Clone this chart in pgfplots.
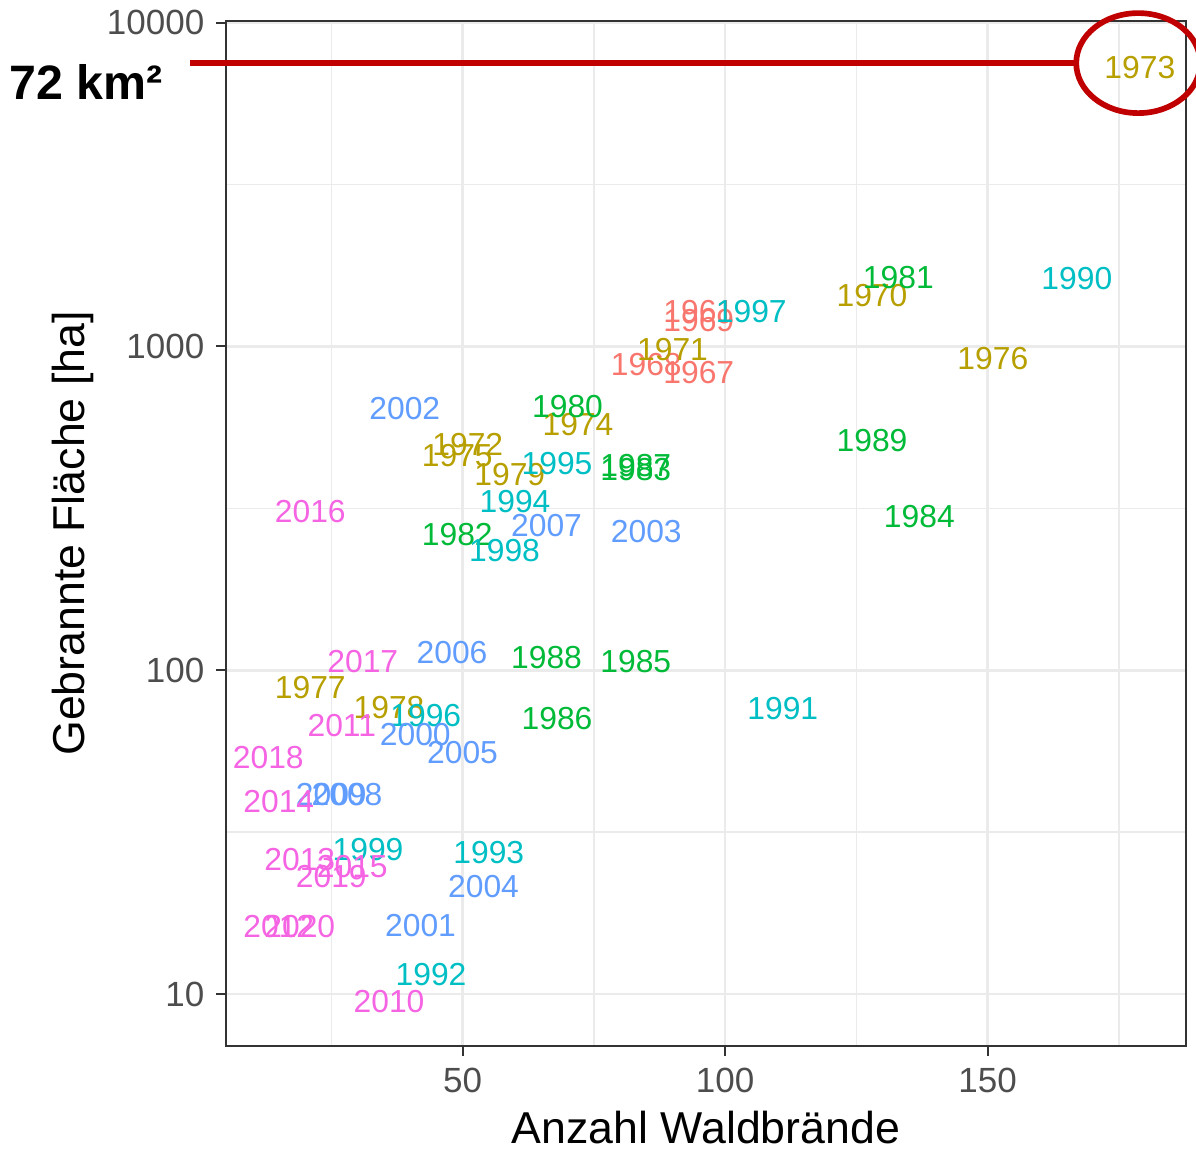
\documentclass[border=0pt]{standalone}
\usepackage{fontspec}
\setmainfont{Liberation Sans}
\usepackage{pgfplots}
\pgfplotsset{compat=1.18}
\definecolor{c60}{HTML}{F8766D}
\definecolor{c70}{HTML}{B79F00}
\definecolor{c80}{HTML}{00BA38}
\definecolor{c90}{HTML}{00BFC4}
\definecolor{c00}{HTML}{619CFF}
\definecolor{c10}{HTML}{F564E3}
\definecolor{gridc}{HTML}{EBEBEB}
\definecolor{framec}{HTML}{333333}
\definecolor{tickc}{HTML}{4D4D4D}
\definecolor{annot}{HTML}{C00000}
\newcommand{\datafont}{\fontsize{9.55}{11}\selectfont}
\pgfplotsset{
  decade/.style={only marks, mark=none, nodes near coords, point meta=explicit symbolic,
    every node near coord/.append style={anchor=center, inner sep=0pt, font=\datafont, text=#1}}
}
\begin{document}
\begin{tikzpicture}
\begin{axis}[
  scale only axis, width=288pt, height=307.5pt,
  xmin=4.95, xmax=187.8, ymode=log, ymin=6.91, ymax=10116,
  xtick={50,100,150}, xticklabels={50,100,150},
  ytick={10,100,1000,10000}, yticklabels={10,100,1000,10000},
  minor xtick={25,75,125,175}, minor ytick={31.62,316.2,3162},
  grid=both,
  major grid style={gridc, line width=0.85pt},
  minor grid style={gridc, line width=0.45pt},
  axis line style={framec, line width=0.6pt},
  tick align=outside, major tick length=3pt, minor tick length=0pt,
  tick style={framec, line width=0.6pt},
  xtick pos=bottom, ytick pos=left,
  ticklabel style={font=\fontsize{10.5}{12}\selectfont, text=tickc},
  /pgf/number format/assume math mode=true,
  clip=false,
  xlabel={Anzahl Waldbrände},
  xlabel style={font=\fontsize{13.4}{16}\selectfont, at={(axis description cs:0.5,-0.0956)}, anchor=base},
  ylabel={Gebrannte Fläche [ha]},
  ylabel style={font=\fontsize{13.4}{16}\selectfont, at={(axis description cs:-0.1479,0.5)}, anchor=base, rotate=0},
]
\addplot[decade=c60] coordinates {(95,1285)[1961] (95,828)[1967] (85,882)[1968] (95,1206)[1969]};
\addplot[decade=c70] coordinates {(128,1431)[1970] (90,975)[1971] (51,499)[1972] (179,7244)[1973] (72,575)[1974] (49,459)[1975] (151,920)[1976] (21,88.1)[1977] (36,76.9)[1978] (59,401)[1979]};
\addplot[decade=c80] coordinates {(70,650)[1980] (133,1637)[1981] (49,263)[1982] (83,418)[1983] (137,299)[1984] (83,106)[1985] (68,71.1)[1986] (83,430)[1987] (66,109.8)[1988] (128,511)[1989]};
\addplot[decade=c90] coordinates {(167,1625)[1990] (111,75.9)[1991] (44,11.5)[1992] (55,27.4)[1993] (60,333)[1994] (68,436)[1995] (43,72.7)[1996] (105,1285)[1997] (58,235)[1998] (32,28.0)[1999]};
\addplot[decade=c00] coordinates {(41,63.1)[2000] (42,16.3)[2001] (39,641)[2002] (85,269)[2003] (54,21.4)[2004] (50,55.8)[2005] (48,113)[2006] (66,279)[2007] (28,41.2)[2008] (25,41.2)[2009]};
\addplot[decade=c10] coordinates {(36,9.5)[2010] (27,67.3)[2011] (15,16.2)[2012] (19,26.1)[2013] (15,39.2)[2014] (29,24.8)[2015] (21,310)[2016] (31,106)[2017] (13,53.6)[2018] (25,23.0)[2019] (19,16.2)[2020]};
\draw[annot, line width=1.8pt] (axis cs:-1.9,7498) -- (axis cs:167.0,7498);
\draw[annot, line width=1.7pt] (axis cs:178.7,7498) ellipse [x radius=18.6pt, y radius=15pt];
\node[anchor=base west, font=\bfseries\fontsize{14.5}{17}\selectfont, inner sep=0pt] at (axis cs:-36.4,5768) {72 km²};
\coordinate (bbsw) at (axis cs:-38.1,3.298);
\coordinate (bbne) at (axis cs:189.7,11745);
\end{axis}
\pgfresetboundingbox
\path[use as bounding box] (bbsw) rectangle (bbne);
\end{tikzpicture}
\end{document}
